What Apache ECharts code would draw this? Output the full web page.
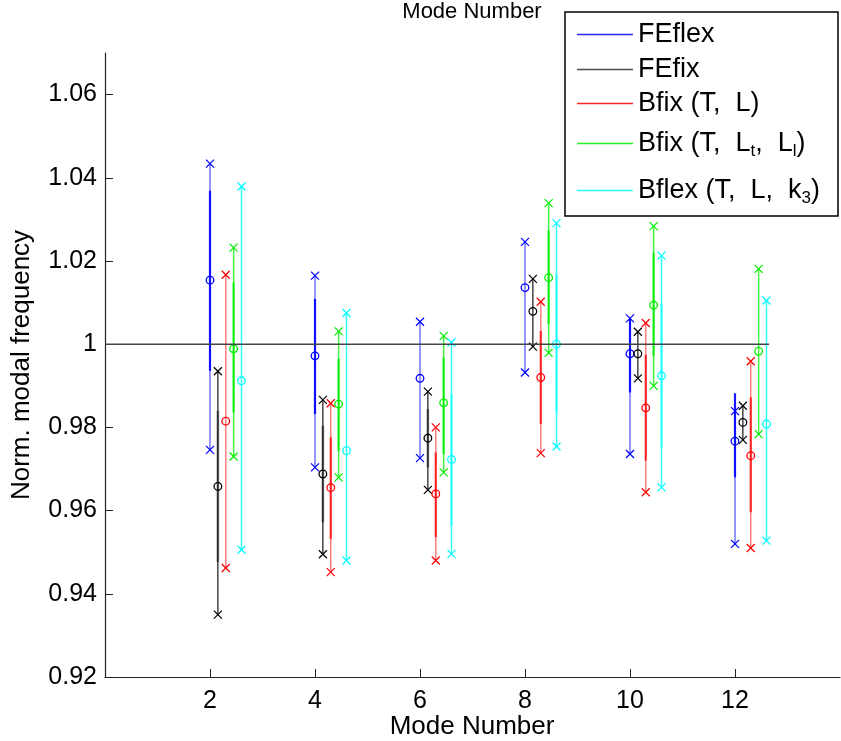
<!DOCTYPE html>
<html>
<head>
<meta charset="utf-8">
<script src="https://cdn.jsdelivr.net/npm/echarts@6/dist/echarts.min.js"></script>
<style>html,body{margin:0;padding:0;background:#fff}#c{width:841px;height:741px}</style>
</head>
<body>
<div id="c"></div>
<script>
// ---- data ----
const modes = [2, 4, 6, 8, 10, 12];
const xTicks = [2, 4, 6, 8, 10, 12];
const yTicks = [0.92, 0.94, 0.96, 0.98, 1.00, 1.02, 1.04, 1.06];
const seriesNames = ['FEflex', 'FEfix', 'Bfix (T,  L)', 'Bfix (T,  Lt,  Ll)', 'Bflex (T,  L,  k3)'];

// FEflex
const feflexMin  = [0.9746, 0.9704, 0.9726, 0.9932, 0.9736, 0.9520];
const feflexMax  = [1.0434, 1.0165, 1.0054, 1.0246, 1.0062, 0.9839];
const feflexMean = [1.0154, 0.9972, 0.9918, 1.0136, 0.9977, 0.9767];
const feflexLo   = [0.9936, 0.9832, null,   null,   0.9884, 0.9680];
const feflexHi   = [1.0369, 1.0109, null,   null,   1.0061, 0.9882];
// FEfix
const fefixMin  = [0.9350, 0.9495, 0.9650, 0.9994, 0.9918, 0.9770];
const fefixMax  = [0.9935, 0.9866, 0.9886, 1.0157, 1.0030, 0.9852];
const fefixMean = [0.9658, 0.9688, 0.9774, 1.0079, 0.9977, 0.9812];
const fefixLo   = [0.9476, 0.9572, 0.9704, null,   null,   null];
const fefixHi   = [0.9840, 0.9804, 0.9844, null,   null,   null];
// Bfix (T, L)
const bfixMin  = [0.9462, 0.9452, 0.9480, 0.9738, 0.9644, 0.9510];
const bfixMax  = [1.0167, 0.9858, 0.9800, 1.0102, 1.0051, 0.9959];
const bfixMean = [0.9815, 0.9655, 0.9640, 0.9920, 0.9847, 0.9732];
const bfixLo   = [null,   0.9532, 0.9536, 0.9808, 0.9720, 0.9596];
const bfixHi   = [null,   0.9776, 0.9740, 1.0032, 0.9975, 0.9872];
// Bfix (T, Lt, Ll)
const bfix2Min  = [0.9730, 0.9680, 0.9692, 0.9979, 0.9900, 0.9784];
const bfix2Max  = [1.0232, 1.0031, 1.0020, 1.0339, 1.0284, 1.0181];
const bfix2Mean = [0.9989, 0.9856, 0.9859, 1.0160, 1.0094, 0.9983];
const bfix2Lo   = [0.9836, 0.9744, 0.9736, 1.0049, 0.9972, null];
const bfix2Hi   = [1.0148, 0.9965, 0.9968, 1.0273, 1.0220, null];
// Bflex (T, L, k3)
const bflexMin  = [0.9506, 0.9480, 0.9496, 0.9754, 0.9656, 0.9528];
const bflexMax  = [1.0379, 1.0075, 1.0004, 1.0291, 1.0213, 1.0105];
const bflexMean = [0.9912, 0.9744, 0.9723, 1.0000, 0.9924, 0.9808];
const bflexLo   = [null,   null,   0.9564, 0.9836, 0.9752, null];
const bflexHi   = [null,   null,   0.9880, 1.0169, 1.0097, null];

const refLineX = [0, 12.65];
const refLineY = [1, 1];

// ---- styling / layout ----
const FONT = 'Liberation Sans, Arial, Helvetica, sans-serif';
const groupStep = 0.15;
const styles = [
  { color: '#0000ff', thinW: 1.5, thinA: 0.55, thickW: 2.2, thickA: 0.9 },
  { color: '#000000', thinW: 1.1, thinA: 1.0,  thickW: 2.6, thickA: 0.45 },
  { color: '#ff0000', thinW: 1.5, thinA: 0.5,  thickW: 2.2, thickA: 0.75 },
  { color: '#00ee00', thinW: 1.5, thinA: 0.75, thickW: 2.2, thickA: 0.8 },
  { color: '#00ffff', thinW: 1.5, thinA: 0.8,  thickW: 2.2, thickA: 0.6 }
];
const seriesData = [
  [feflexMin, feflexMax, feflexMean, feflexLo, feflexHi],
  [fefixMin, fefixMax, fefixMean, fefixLo, fefixHi],
  [bfixMin, bfixMax, bfixMean, bfixLo, bfixHi],
  [bfix2Min, bfix2Max, bfix2Mean, bfix2Lo, bfix2Hi],
  [bflexMin, bflexMax, bflexMean, bflexLo, bflexHi]
];

function makeRender(st) {
  return function (params, api) {
    const x = api.value(0);
    const pMin = api.coord([x, api.value(1)]);
    const pMax = api.coord([x, api.value(2)]);
    const pMean = api.coord([x, api.value(3)]);
    const lo = api.value(4), hi = api.value(5);
    const c = st.color;
    const ch = [];
    ch.push({ type: 'line', shape: { x1: pMin[0], y1: pMin[1], x2: pMax[0], y2: pMax[1] },
      style: { stroke: c, lineWidth: st.thinW, opacity: st.thinA } });
    if (!isNaN(lo) && !isNaN(hi)) {
      const a = api.coord([x, lo]), b = api.coord([x, hi]);
      ch.push({ type: 'line', shape: { x1: a[0], y1: a[1], x2: b[0], y2: b[1] },
        style: { stroke: c, lineWidth: st.thickW, opacity: st.thickA } });
    }
    const s = 4;
    [pMin, pMax].forEach(function (p) {
      ch.push({ type: 'line', shape: { x1: p[0] - s, y1: p[1] - s, x2: p[0] + s, y2: p[1] + s }, style: { stroke: c, lineWidth: 1.2 } });
      ch.push({ type: 'line', shape: { x1: p[0] - s, y1: p[1] + s, x2: p[0] + s, y2: p[1] - s }, style: { stroke: c, lineWidth: 1.2 } });
    });
    ch.push({ type: 'circle', shape: { cx: pMean[0], cy: pMean[1], r: 3.8 }, style: { stroke: c, fill: 'none', lineWidth: 1.3 } });
    return { type: 'group', children: ch };
  };
}

const series = seriesData.map(function (arrs, k) {
  const rows = modes.map(function (m, i) {
    return [m + k * groupStep, arrs[0][i], arrs[1][i], arrs[2][i],
      arrs[3][i] == null ? '-' : arrs[3][i], arrs[4][i] == null ? '-' : arrs[4][i]];
  });
  return {
    type: 'custom', name: seriesNames[k], renderItem: makeRender(styles[k]),
    itemStyle: { color: styles[k].color },
    encode: { x: 0, y: [1, 2, 3] },
    data: rows, z: 2, silent: true
  };
});
series.push({
  type: 'line', name: 'ref', data: refLineX.map(function (x, i) { return [x, refLineY[i]]; }),
  symbol: 'none', lineStyle: { color: '#444', width: 1.5 }, z: 3, silent: true
});

const subRich = {
  s: { fontSize: 17, fontFamily: FONT, color: '#000', padding: [15, 0, 0, 0] }
};
function legendLabel(name) {
  if (name === 'Bfix (T,  Lt,  Ll)') return 'Bfix (T,  L{s|t},  L{s|l})';
  if (name === 'Bflex (T,  L,  k3)') return 'Bflex (T,  L,  k{s|3})';
  return name;
}
const legendTops = [21, 56, 90, 130, 177];
const legends = seriesNames.map(function (n, k) {
  return {
    data: [{ name: n, icon: 'rect' }], left: 577, top: legendTops[k], orient: 'vertical',
    itemWidth: 56, itemHeight: 1.5, padding: 0, selectedMode: false,
    formatter: legendLabel,
    itemStyle: { opacity: k === 1 ? 0.7 : 0.85 },
    textStyle: { fontSize: 27, fontFamily: FONT, color: '#000', rich: subRich }
  };
});

const chart = echarts.init(document.getElementById('c'));
chart.setOption({
  animation: false,
  backgroundColor: '#fff',
  grid: { left: 105, right: 1, top: 53, bottom: 64 },
  xAxis: {
    type: 'value', min: 0, max: 14,
    axisLine: { lineStyle: { color: '#222', width: 1.2 } },
    axisTick: { inside: true, length: 8, customValues: xTicks, lineStyle: { color: '#222' } },
    axisLabel: { customValues: xTicks, fontSize: 25, fontFamily: FONT, color: '#000', margin: 12 },
    splitLine: { show: false }
  },
  yAxis: {
    type: 'value', min: 0.92, max: 1.07,
    axisLine: { show: true, lineStyle: { color: '#222', width: 1.2 } },
    axisTick: { show: true, inside: true, length: 8, customValues: yTicks, lineStyle: { color: '#222' } },
    axisLabel: { customValues: yTicks, fontSize: 25, fontFamily: FONT, color: '#000', margin: 8,
      formatter: function (v) { return String(+(+v).toFixed(2)); } },
    splitLine: { show: false }
  },
  legend: legends,
  graphic: [
    { type: 'rect', shape: { x: 565, y: 12, width: 273, height: 204 }, style: { fill: '#fff', stroke: '#000', lineWidth: 1.5 }, z: 1 },
    { type: 'text', x: 472, y: 12, style: { text: 'Mode Number', font: '22px ' + FONT, fill: '#000', align: 'center', verticalAlign: 'middle' } },
    { type: 'text', x: 472, y: 727, style: { text: 'Mode Number', font: '26px ' + FONT, fill: '#000', align: 'center', verticalAlign: 'middle' } },
    { type: 'text', x: 22, y: 365, rotation: Math.PI / 2, style: { text: 'Norm. modal frequency', font: '26px ' + FONT, fill: '#000', align: 'center', verticalAlign: 'middle' } }
  ],
  series: series
});
</script>
</body>
</html>
